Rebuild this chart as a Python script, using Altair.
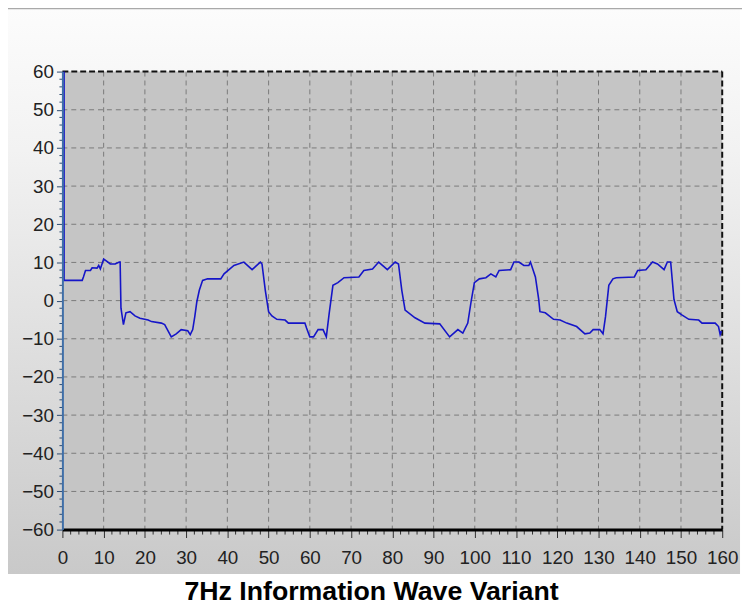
import altair as alt
import pandas as pd

# ---- data ----
time_vals = [0.4, 0.4, 4.8, 5.1, 5.6, 6.8, 7.2, 8.4, 8.8, 9.2, 10.0, 10.8, 11.6, 12.8, 13.8,
             14.0, 14.2, 14.8, 15.4, 16.4, 17.6, 18.8, 20.8, 21.6, 24.0, 24.8, 26.4, 27.6, 28.8,
             30.4, 31.0, 31.6, 32.1, 32.6, 33.2, 34.0, 35.2, 38.4, 39.2, 40.4, 41.6, 44.0, 46.0,
             48.0, 48.4, 49.2, 50.0, 50.8, 52.0, 54.0, 54.8, 58.8, 59.2, 60.0, 60.9, 62.0, 63.2,
             64.0, 64.7, 65.6, 66.8, 68.3, 71.9, 73.1, 75.2, 76.7, 78.8, 80.7, 81.5, 82.3, 83.1,
             85.5, 87.9, 91.5, 93.9, 95.9, 97.1, 98.3, 99.1, 99.9, 101.1, 102.7, 103.9, 105.1,
             105.9, 108.7, 109.5, 110.7, 111.9, 113.1, 113.5, 114.7, 115.5, 115.8, 117.1, 119.1,
             120.7, 122.3, 124.7, 126.7, 127.9, 128.7, 130.3, 131.1, 131.7, 132.5, 133.5, 134.3,
             138.7, 139.5, 141.5, 143.1, 144.3, 145.9, 146.7, 147.5, 148.3, 149.1, 150.3, 151.9,
             154.3, 155.1, 158.3, 159.1, 159.5, 159.8]
wave_vals = [60.0, 5.3, 5.3, 6.2, 7.9, 7.9, 8.6, 8.5, 9.2, 8.3, 10.9, 10.3, 9.6, 9.6, 10.1,
             10.1, -2.0, -6.3, -3.2, -2.9, -4.0, -4.6, -5.1, -5.5, -5.9, -6.3, -9.5, -8.7, -7.6,
             -7.9, -8.9, -7.6, -4.2, -0.3, 2.7, 5.3, 5.7, 5.7, 7.0, 8.1, 9.2, 10.1, 8.1,
             10.1, 9.6, 2.7, -2.9, -4.0, -4.9, -5.1, -5.9, -5.9, -7.2, -9.5, -9.5, -7.6, -7.6,
             -9.5, -3.3, 4.0, 4.7, 6.0, 6.2, 7.9, 8.3, 10.1, 8.1, 10.1, 9.6, 2.7, -2.5,
             -4.5, -5.9, -6.1, -9.5, -7.6, -8.5, -5.9, -0.3, 4.7, 5.7, 6.0, 7.0, 6.2,
             7.9, 8.1, 10.1, 10.1, 9.2, 9.2, 10.1, 6.2, 0.3, -2.9, -3.2, -4.9,
             -5.1, -5.9, -6.8, -8.7, -8.5, -7.6, -7.6, -8.7, -4.2, 4.0, 5.7, 6.0,
             6.2, 7.9, 8.1, 10.1, 9.6, 8.1, 10.1, 10.1, 0.3, -2.9, -3.8, -4.9,
             -5.1, -5.9, -5.9, -6.8, -8.9, -8.0]

x_ticks = list(range(0, 161, 10))
y_ticks = list(range(-60, 61, 10))
x_minor = [v for v in range(0, 161, 2) if v % 10 != 0]
y_minor = [v for v in range(-60, 61, 2) if v % 10 != 0]
x_grid = list(range(10, 160, 10))
y_grid = list(range(-50, 60, 10))
title_text = "7Hz Information Wave Variant"

W, H = 667, 463
FONT = "Liberation Sans"

df = pd.DataFrame({"t": time_vals, "v": wave_vals, "i": list(range(len(time_vals)))})
one = pd.DataFrame({"k": [0]})
xs = alt.Scale(domain=[0, 160], nice=False, zero=False)
ys = alt.Scale(domain=[-60, 60], nice=False, zero=False)

ax_x = alt.Axis(values=x_ticks, title=None, grid=False, zindex=1,
                labelOverlap=False, labelFlush=False, labelBound=False,
                tickSize=8, tickColor="#303030", tickWidth=1,
                domainColor="#000000", domainWidth=3,
                labelFont=FONT, labelFontSize=19, labelColor="#222222", labelPadding=11)
ax_y = alt.Axis(values=y_ticks, title=None, grid=False, zindex=1,
                labelOverlap=False, labelFlush=False, labelBound=False,
                tickSize=6, tickColor="#2c4a70", tickWidth=1,
                domainColor="#3f6fa8", domainWidth=2,
                labelFont=FONT, labelFontSize=19, labelColor="#222222", labelPadding=3)

bg = alt.Chart(one).mark_rect(
    fill=alt.LinearGradient(
        gradient="linear", x1=0, y1=0, x2=0, y2=1,
        stops=[alt.GradientStop(offset=0, color="#fcfcfc"),
               alt.GradientStop(offset=0.25, color="#f2f2f2"),
               alt.GradientStop(offset=1, color="#c9c9c9")]),
).encode(x=alt.value(-58), x2=alt.value(685), y=alt.value(-64), y2=alt.value(508))

topline = alt.Chart(one).mark_rule(color="#a9a9a9", strokeWidth=2).encode(
    x=alt.value(-58), x2=alt.value(690), y=alt.value(-64))

plotbg = alt.Chart(one).mark_rect(fill="#c5c5c5").encode(
    x=alt.value(0), x2=alt.value(W), y=alt.value(0), y2=alt.value(H))

vgrid = alt.Chart(pd.DataFrame({"t": x_grid})).mark_rule(
    color="#7a7a7a", strokeWidth=1, strokeDash=[5, 4]).encode(
    x=alt.X("t:Q", scale=xs, axis=ax_x), y=alt.value(0), y2=alt.value(H))

hgrid = alt.Chart(pd.DataFrame({"v": y_grid})).mark_rule(
    color="#7a7a7a", strokeWidth=1, strokeDash=[5, 4]).encode(
    y=alt.Y("v:Q", scale=ys, axis=ax_y), x=alt.value(0), x2=alt.value(W))

xminor = alt.Chart(pd.DataFrame({"t": x_minor})).mark_rule(
    color="#303030", strokeWidth=1).encode(
    x=alt.X("t:Q", scale=xs, axis=ax_x), y=alt.value(H), y2=alt.value(H + 5))

yminor = alt.Chart(pd.DataFrame({"v": y_minor})).mark_rule(
    color="#2c4a70", strokeWidth=1).encode(
    y=alt.Y("v:Q", scale=ys, axis=ax_y), x=alt.value(-3), x2=alt.value(0))

top_border = alt.Chart(one).mark_rule(color="#111111", strokeWidth=2, strokeDash=[6, 3]).encode(
    x=alt.value(0), x2=alt.value(W), y=alt.value(0))
right_border = alt.Chart(one).mark_rule(color="#111111", strokeWidth=2, strokeDash=[6, 3]).encode(
    x=alt.value(W), y=alt.value(0), y2=alt.value(H))

line = alt.Chart(df).mark_line(color="#1515c8", strokeWidth=1.6).encode(
    x=alt.X("t:Q", scale=xs, axis=ax_x),
    y=alt.Y("v:Q", scale=ys, axis=ax_y),
    order="i:Q",
)

chart = alt.layer(bg, topline, plotbg, vgrid, hgrid, xminor, yminor,
                  top_border, right_border, line).properties(
    width=W, height=H,
    autosize=alt.AutoSizeParams(type="none"),
    padding={"left": 55, "top": 61, "right": 20, "bottom": 80},
    background="#ffffff",
    title=alt.TitleParams(title_text, orient="bottom", anchor="middle", fontSize=27,
                          font=FONT, fontWeight="bold", color="#000000", dx=-21, offset=5),
).configure_view(stroke="transparent")

chart.save("out.html", embed_options={"renderer": "svg", "actions": False})
